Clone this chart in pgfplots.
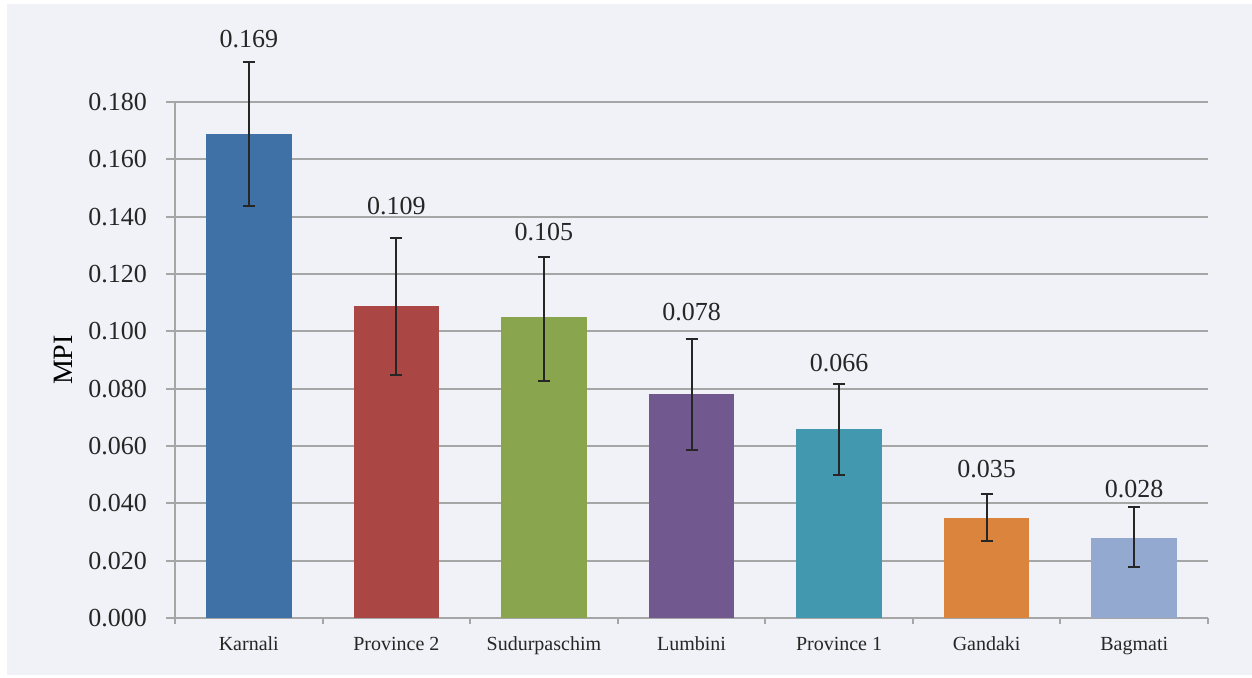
\documentclass[border=0pt]{standalone}
\usepackage{pgfplots}
\pgfplotsset{compat=1.18}
\usepackage{fontspec}
\setmainfont{Liberation Serif}

\definecolor{bgcol}{HTML}{F1F2F7}
\definecolor{gridcol}{HTML}{A6A6A6}
\definecolor{errcol}{HTML}{262626}
\definecolor{cKar}{HTML}{4071A6}
\definecolor{cPr2}{HTML}{AA4643}
\definecolor{cSud}{HTML}{89A54E}
\definecolor{cLum}{HTML}{71588F}
\definecolor{cPr1}{HTML}{4198AF}
\definecolor{cGan}{HTML}{DB843D}
\definecolor{cBag}{HTML}{93A9CF}

\pgfplotsset{
  barstyle/.style={ybar, bar shift=0pt, bar width=0.58, draw=none,
    error bars/.cd, y dir=both, y explicit,
    error bar style={errcol, line width=1pt},
    error mark options={rotate=90, mark size=3pt, errcol, line width=1pt},
    /pgfplots/.cd}
}

\begin{document}
\begin{tikzpicture}
\fill[bgcol] (-84pt,-28.5pt) rectangle (538.5pt,307pt);
\begin{axis}[
  scale only axis,
  width=516.5pt, height=258pt,
  at={(0,0)}, anchor=south west,
  clip=false,
  xmin=-0.5, xmax=6.5,
  ymin=0, ymax=0.18,
  axis x line*=bottom, axis y line*=left,
  axis line style={gridcol, line width=1pt},
  xtick={0,1,2,3,4,5,6},
  xticklabels={Karnali, Province 2, Sudurpaschim, Lumbini, Province 1, Gandaki, Bagmati},
  major x tick style={draw=none},
  minor xtick={-0.5,0.5,1.5,2.5,3.5,4.5,5.5,6.5},
  minor x tick style={gridcol, line width=1pt},
  minor tick length=3pt,
  ytick={0,0.02,0.04,0.06,0.08,0.10,0.12,0.14,0.16,0.18},
  major tick length=4.5pt,
  tick align=outside,
  y tick style={gridcol, line width=1pt},
  ymajorgrids,
  major grid style={gridcol, line width=1pt},
  scaled y ticks=false,
  ticklabel style={text=black!85},
  yticklabel style={font=\fontsize{13}{15}\selectfont, xshift=-6pt,
    /pgf/number format/fixed, /pgf/number format/fixed zerofill,
    /pgf/number format/precision=3, /pgf/number format/assume math mode=true},
  xticklabel style={font=\fontsize{10}{12}\selectfont, yshift=-1.5pt},
  ylabel={MPI},
  ylabel style={at={(axis description cs:-0.108,0.5)}, anchor=center, font=\fontsize{14}{16}\selectfont},
  nodes near coords style={font=\fontsize{13}{15}\selectfont, text=black!85},
]
\addplot[barstyle, fill=cKar] coordinates {(0,0.169) += (0,0.025) -= (0,0.0253)};
\addplot[barstyle, fill=cPr2] coordinates {(1,0.109) += (0,0.0236) -= (0,0.0242)};
\addplot[barstyle, fill=cSud] coordinates {(2,0.105) += (0,0.0209) -= (0,0.0223)};
\addplot[barstyle, fill=cLum] coordinates {(3,0.078) += (0,0.0193) -= (0,0.0194)};
\addplot[barstyle, fill=cPr1] coordinates {(4,0.066) += (0,0.0156) -= (0,0.0161)};
\addplot[barstyle, fill=cGan] coordinates {(5,0.035) += (0,0.0083) -= (0,0.0081)};
\addplot[barstyle, fill=cBag] coordinates {(6,0.028) += (0,0.0107) -= (0,0.0102)};
% value labels, centred where they sit in the reference
\addplot[draw=none, mark=none, nodes near coords, point meta=explicit symbolic,
  every node near coord/.append style={anchor=center}]
  coordinates {
  (0,0.2018)[0.169] (1,0.1436)[0.109] (2,0.1345)[0.105] (3,0.1066)[0.078]
  (4,0.0888)[0.066] (5,0.0518)[0.035] (6,0.0450)[0.028]};
\end{axis}
\pgfresetboundingbox
\path (-87.5pt,-29.5pt) rectangle (538.5pt,309pt);
\end{tikzpicture}
\end{document}
